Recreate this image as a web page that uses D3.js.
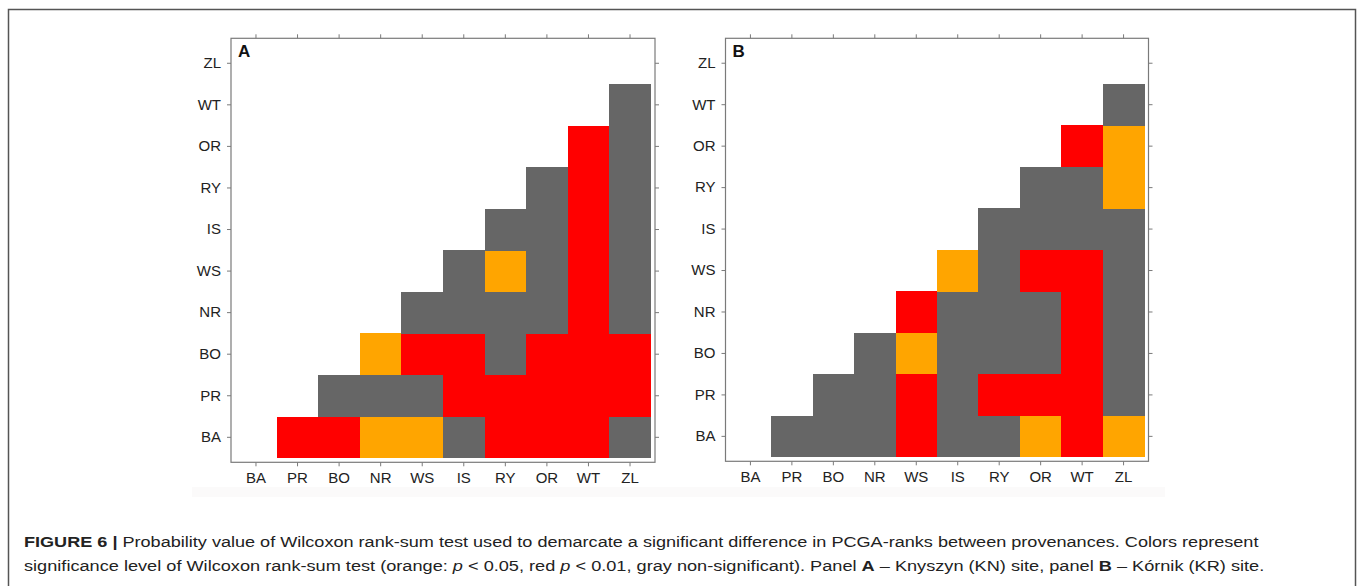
<!DOCTYPE html>
<html>
<head>
<meta charset="utf-8">
<script src="https://cdn.jsdelivr.net/npm/d3@7"></script>
<style>
  html, body { margin: 0; padding: 0; background: #fff; }
  svg { display: block; }
  text { font-family: "Liberation Sans", Arial, Helvetica, sans-serif; }
</style>
</head>
<body>
<svg id="fig" width="1358" height="586"></svg>
<script>
// Provenances, in axis order (bottom-to-top on y, left-to-right on x)
const categories = ["BA", "PR", "BO", "NR", "WS", "IS", "RY", "OR", "WT", "ZL"];

// Significance classes of the pairwise Wilcoxon rank-sum test
const levelNames  = ["ns", "p<0.05", "p<0.01"];
const levelColors = ["#666666", "#FFA500", "#FF0000"];

// Panel A – Knyszyn (KN): one row per y category, one entry per x category
// 0 = non-significant, 1 = p < 0.05, 2 = p < 0.01, null = not tested
const knyszyn = [
  [null, 2, 2, 1, 1, 0, 2, 2, 2, 0],          // BA
  [null, null, 0, 0, 0, 2, 2, 2, 2, 2],       // PR
  [null, null, null, 1, 2, 2, 0, 2, 2, 2],    // BO
  [null, null, null, null, 0, 0, 0, 0, 2, 0], // NR
  [null, null, null, null, null, 0, 1, 0, 2, 0], // WS
  [null, null, null, null, null, null, 0, 0, 2, 0], // IS
  [null, null, null, null, null, null, null, 0, 2, 0], // RY
  [null, null, null, null, null, null, null, null, 2, 0], // OR
  [null, null, null, null, null, null, null, null, null, 0], // WT
  [null, null, null, null, null, null, null, null, null, null] // ZL
];

// Panel B – Kórnik (KR)
const kornik = [
  [null, 0, 0, 0, 2, 0, 0, 1, 2, 1],          // BA
  [null, null, 0, 0, 2, 0, 2, 2, 2, 0],       // PR
  [null, null, null, 0, 1, 0, 0, 0, 2, 0],    // BO
  [null, null, null, null, 2, 0, 0, 0, 2, 0], // NR
  [null, null, null, null, null, 1, 0, 2, 2, 0], // WS
  [null, null, null, null, null, null, 0, 0, 0, 0], // IS
  [null, null, null, null, null, null, null, 0, 0, 1], // RY
  [null, null, null, null, null, null, null, null, 2, 1], // OR
  [null, null, null, null, null, null, null, null, null, 0], // WT
  [null, null, null, null, null, null, null, null, null, null] // ZL
];

const panelLabels = ["A", "B"];

const svg = d3.select("#fig");

// Outer figure frame (open at the bottom edge of the page)
svg.append("rect")
  .attr("x", 8.5).attr("y", 9.5)
  .attr("width", 1347).attr("height", 620)
  .attr("fill", "none")
  .attr("stroke", "#555")
  .attr("stroke-width", 1.5);

// faint strip under the plot image
svg.append("rect")
  .attr("x", 192).attr("y", 487)
  .attr("width", 973).attr("height", 10)
  .attr("fill", "#fbfafa");

const color = d3.scaleOrdinal().domain([0, 1, 2]).range(levelColors);

const panels = [
  { label: panelLabels[0], data: knyszyn, x: 231, y: 38.3, w: 424, h: 424 },
  { label: panelLabels[1], data: kornik,  x: 725.5, y: 38.3, w: 423, h: 423 }
];

const pad = 4.2;
const frameColor = "#7a7a7a";

panels.forEach(p => {
  const xs = d3.scaleBand().domain(categories).range([p.x + pad, p.x + p.w - pad]).padding(0);
  const ys = d3.scaleBand().domain(categories).range([p.y + p.h - pad, p.y + pad]).padding(0);

  const g = svg.append("g");

  // cells
  const cells = [];
  p.data.forEach((row, yi) => {
    row.forEach((v, xi) => {
      if (v !== null) cells.push({ xc: categories[xi], yc: categories[yi], v });
    });
  });
  g.selectAll("rect.cell")
    .data(cells)
    .join("rect")
    .attr("class", "cell")
    .attr("x", d => xs(d.xc))
    .attr("y", d => ys(d.yc))
    .attr("width", xs.bandwidth() + 0.3)
    .attr("height", ys.bandwidth() + 0.3)
    .attr("fill", d => color(d.v))
    .attr("shape-rendering", "crispEdges");

  // axes on all four sides, labels on left and bottom only
  const styleAxis = sel => {
    sel.select(".domain").remove();
    sel.selectAll(".tick line").attr("stroke", frameColor);
    sel.selectAll(".tick text")
      .attr("fill", "#222")
      .style("font-size", "15px")
      .style("font-family", "'Liberation Sans', Arial, sans-serif");
  };

  g.append("g")
    .attr("transform", `translate(${p.x},0)`)
    .call(d3.axisLeft(ys).tickSize(4).tickPadding(6))
    .call(styleAxis);
  g.append("g")
    .attr("transform", `translate(0,${p.y + p.h})`)
    .call(d3.axisBottom(xs).tickSize(4).tickPadding(6))
    .call(styleAxis);
  g.append("g")
    .attr("transform", `translate(${p.x + p.w},0)`)
    .call(d3.axisRight(ys).tickSize(4).tickFormat(""))
    .call(styleAxis);
  g.append("g")
    .attr("transform", `translate(0,${p.y})`)
    .call(d3.axisTop(xs).tickSize(4).tickFormat(""))
    .call(styleAxis);

  // panel frame
  g.append("rect")
    .attr("x", p.x).attr("y", p.y)
    .attr("width", p.w).attr("height", p.h)
    .attr("fill", "none")
    .attr("stroke", frameColor)
    .attr("stroke-width", 1.2);

  // panel letter
  g.append("text")
    .attr("x", p.x + 7).attr("y", p.y + 19)
    .attr("font-weight", "bold")
    .attr("font-size", 17)
    .attr("fill", "#111")
    .text(p.label);
});

// Caption
const caption = [
  {
    y: 547, width: 1236,
    parts: [
      { t: "FIGURE 6 | ", b: true },
      { t: "Probability value of Wilcoxon rank-sum test used to demarcate a significant difference in PCGA-ranks between provenances. Colors represent" }
    ]
  },
  {
    y: 571, width: 1241,
    parts: [
      { t: "significance level of Wilcoxon rank-sum test (orange: " },
      { t: "p", i: true },
      { t: " < 0.05, red " },
      { t: "p", i: true },
      { t: " < 0.01, gray non-significant). Panel " },
      { t: "A", b: true },
      { t: " – Knyszyn (KN) site, panel " },
      { t: "B", b: true },
      { t: " – Kórnik (KR) site." }
    ]
  }
];

caption.forEach(line => {
  const t = svg.append("text")
    .attr("x", 0).attr("y", 0)
    .attr("font-size", 15.5)
    .attr("fill", "#222")
    .attr("xml:space", "preserve")
    .style("white-space", "pre");
  line.parts.forEach(pt => {
    t.append("tspan")
      .attr("font-weight", pt.b ? "bold" : null)
      .attr("font-style", pt.i ? "italic" : null)
      .text(pt.t);
  });
  const natural = t.node().getComputedTextLength();
  t.attr("transform", `translate(24,${line.y}) scale(${line.width / natural},1)`);
});
</script>
</body>
</html>
